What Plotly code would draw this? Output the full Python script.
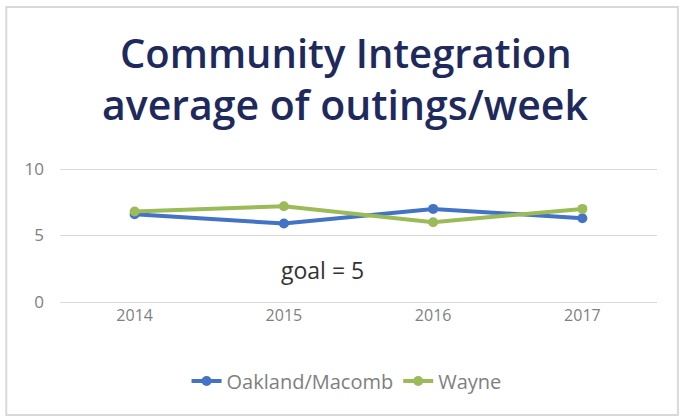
import plotly.graph_objects as go

years = ["2014", "2015", "2016", "2017"]
oakland_macomb = [6.6, 5.9, 7.0, 6.3]
wayne = [6.8, 7.2, 6.0, 7.0]
y_ticks = [0, 5, 10]

fig = go.Figure()
fig.add_trace(go.Scatter(x=years, y=oakland_macomb, name="Oakland/Macomb", mode="lines+markers",
                         line=dict(color="#4472C4", width=4), marker=dict(size=10, color="#4472C4")))
fig.add_trace(go.Scatter(x=years, y=wayne, name="Wayne", mode="lines+markers",
                         line=dict(color="#9BBB59", width=4), marker=dict(size=10, color="#9BBB59")))

H0 = 304.0
PH = 137.0

def py(p):
    return (H0 - p) / PH

fig.update_layout(
    width=681, height=419,
    margin=dict(l=60, r=24, t=167, b=115, autoexpand=False),
    paper_bgcolor="white", plot_bgcolor="white",
    showlegend=True,
    legend=dict(orientation="h", x=0.48, xanchor="center", y=py(381), yanchor="middle",
                font=dict(family="Open Sans", size=20, color="#7f7f7f")),
    xaxis=dict(type="category", range=[-0.5, 3.5], showgrid=False, showline=False, ticks="",
               tickfont=dict(family="Open Sans", size=16, color="#7f7f7f")),
    yaxis=dict(range=[-0.15, 10.15], tickvals=y_ticks, showgrid=True, gridcolor="#d9d9d9", gridwidth=1,
               zeroline=False, showline=False, ticks="", ticklabelstandoff=15,
               tickfont=dict(family="Open Sans", size=17, color="#7f7f7f")),
    shapes=[dict(type="rect", xref="paper", yref="paper", x0=-0.09, x1=1.035, y0=py(415), y1=py(7),
                 line=dict(color="#d9d9d9", width=2), layer="below")],
    annotations=[
        dict(text="Community Integration", xref="paper", yref="paper",
             x=0.479, y=py(52), xanchor="center", yanchor="middle", showarrow=False,
             font=dict(family="Open Sans", size=40, color="#1f2a5c", weight=600)),
        dict(text="average of outings/week", xref="paper", yref="paper",
             x=0.477, y=py(104), xanchor="center", yanchor="middle", showarrow=False,
             font=dict(family="Open Sans", size=41, color="#1f2a5c", weight=600)),
        dict(text="goal = 5", xref="paper", yref="paper", x=0.44, y=py(270), showarrow=False,
             xanchor="center", yanchor="middle",
             font=dict(family="Open Sans", size=23, color="#333333")),
    ],
)
fig.write_html("out.html", config={"displayModeBar": False},
               post_script="document.body.style.margin='0';")
